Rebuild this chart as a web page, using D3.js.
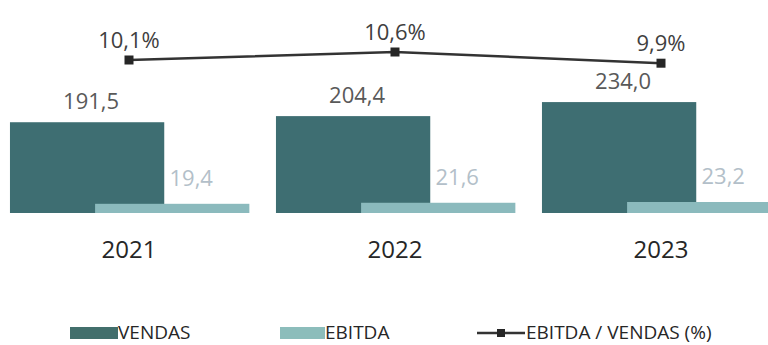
<!DOCTYPE html>
<html>
<head>
<meta charset="utf-8">
<script src="https://cdn.jsdelivr.net/npm/d3@7"></script>
<style>
  html, body { margin: 0; padding: 0; background: #fff; }
  svg { display: block; font-family: "Open Sans", sans-serif; }
</style>
</head>
<body>
<svg id="chart" width="768" height="345"></svg>
<script>
const YEARS = ["2021", "2022", "2023"];
const VENDAS = [191.5, 204.4, 234.0];
const EBITDA = [19.4, 21.6, 23.2];
const MARGEM = [10.1, 10.6, 9.9];
const LEGEND = ["VENDAS", "EBITDA", "EBITDA / VENDAS (%)"];

const fmt = (v) => v.toFixed(1).replace(".", ",");

const svg = d3.select("#chart");

const x = d3.scaleBand().domain(YEARS).range([-4, 794]).padding(0);
const y = d3.scaleLinear().domain([0, 250]).range([213, 94.5]);
const yPct = d3.scaleLinear().domain([9, 11]).range([77.6, 45.6]);

const step = x.bandwidth();
const barW = step * 0.58;
const groupLeft = (d) => x(d) + (step - step * 0.895) / 2;
const ebitdaOffset = step * 0.32;

// vendas bars
svg.append("g").selectAll("rect")
  .data(YEARS)
  .join("rect")
  .attr("x", (d) => groupLeft(d))
  .attr("y", (d, i) => y(VENDAS[i]))
  .attr("width", barW)
  .attr("height", (d, i) => y(0) - y(VENDAS[i]))
  .attr("fill", "#3e6e72");

// ebitda bars
svg.append("g").selectAll("rect")
  .data(YEARS)
  .join("rect")
  .attr("x", (d) => groupLeft(d) + ebitdaOffset)
  .attr("y", (d, i) => y(EBITDA[i]))
  .attr("width", barW)
  .attr("height", (d, i) => y(0) - y(EBITDA[i]))
  .attr("fill", "#8bbabd");

// vendas labels
svg.append("g").selectAll("text")
  .data(YEARS)
  .join("text")
  .attr("x", (d) => groupLeft(d) + barW / 2 + 4)
  .attr("y", (d, i) => y(VENDAS[i]) - 13)
  .attr("text-anchor", "middle")
  .attr("font-size", 22)
  .attr("fill", "#595959")
  .text((d, i) => fmt(VENDAS[i]));

// ebitda labels
svg.append("g").selectAll("text")
  .data(YEARS)
  .join("text")
  .attr("x", (d) => groupLeft(d) + ebitdaOffset + barW / 2 + 19)
  .attr("y", (d, i) => y(EBITDA[i]) - 18)
  .attr("text-anchor", "middle")
  .attr("font-size", 22)
  .attr("fill", "#b3bfc9")
  .text((d, i) => fmt(EBITDA[i]));

// year axis labels
svg.append("g").selectAll("text")
  .data(YEARS)
  .join("text")
  .attr("x", (d) => x(d) + step / 2)
  .attr("y", 258)
  .attr("text-anchor", "middle")
  .attr("font-size", 24)
  .attr("fill", "#262626")
  .text((d) => d);

// margin line
const cx = (d) => x(d) + step / 2;
const line = d3.line().x((d) => cx(d)).y((d, i) => yPct(MARGEM[i]));
svg.append("path")
  .datum(YEARS)
  .attr("fill", "none")
  .attr("stroke", "#333")
  .attr("stroke-width", 2.5)
  .attr("d", line);

svg.append("g").selectAll("rect")
  .data(YEARS)
  .join("rect")
  .attr("x", (d) => cx(d) - 4.5)
  .attr("y", (d, i) => yPct(MARGEM[i]) - 4.5)
  .attr("width", 9)
  .attr("height", 9)
  .attr("fill", "#262626");

svg.append("g").selectAll("text")
  .data(YEARS)
  .join("text")
  .attr("x", (d) => cx(d))
  .attr("y", (d, i) => yPct(MARGEM[i]) - 12)
  .attr("text-anchor", "middle")
  .attr("font-size", 22)
  .attr("fill", "#404040")
  .text((d, i) => fmt(MARGEM[i]) + "%");

// legend
const leg = svg.append("g").attr("font-size", 19).attr("fill", "#262626");
leg.append("rect").attr("x", 70).attr("y", 327).attr("width", 48).attr("height", 12).attr("fill", "#426f6c");
leg.append("text").attr("x", 118).attr("y", 339).text(LEGEND[0]);
leg.append("rect").attr("x", 280).attr("y", 327).attr("width", 45).attr("height", 12).attr("fill", "#8cbdbb");
leg.append("text").attr("x", 325).attr("y", 339).text(LEGEND[1]);
leg.append("line").attr("x1", 477).attr("x2", 525).attr("y1", 333).attr("y2", 333)
  .attr("stroke", "#333").attr("stroke-width", 2.5);
leg.append("rect").attr("x", 497).attr("y", 329).attr("width", 8).attr("height", 8).attr("fill", "#262626");
leg.append("text").attr("x", 526).attr("y", 339).text(LEGEND[2]);
</script>
</body>
</html>
